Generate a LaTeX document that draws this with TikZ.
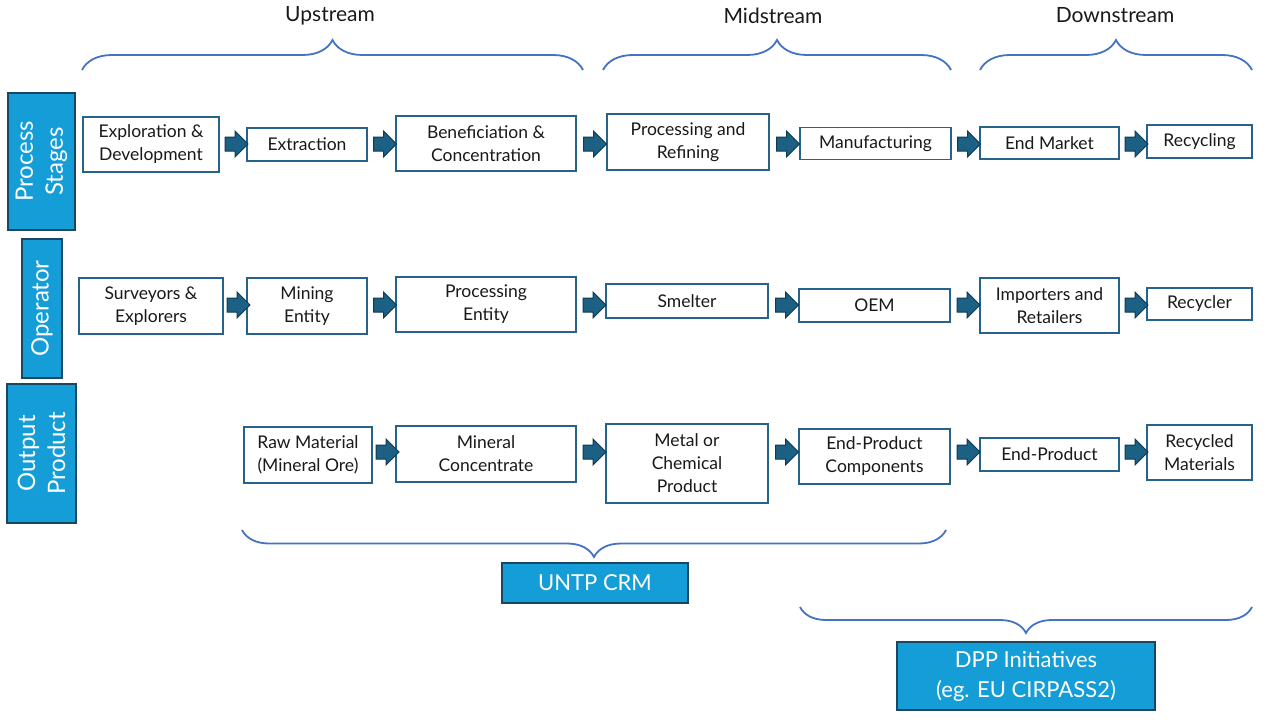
\documentclass[tikz,border=0pt]{standalone}
\usepackage{fontspec}
\setmainfont{Lato}
\usetikzlibrary{shapes.arrows,decorations.pathreplacing}
\definecolor{boxline}{RGB}{38,98,138}
\definecolor{arrowfill}{RGB}{28,96,132}
\definecolor{arrowline}{RGB}{14,58,82}
\definecolor{tagfill}{RGB}{20,157,214}
\definecolor{tagline}{RGB}{26,70,96}
\definecolor{bracecol}{RGB}{68,114,196}
\begin{document}
\begin{tikzpicture}[x=1pt, y=-1pt,
	box/.style = {draw=boxline, line width=1.4pt, fill=white, align=center, inner sep=0pt, text=black!90, font=\fontsize{17.5}{23}\selectfont},
	tag/.style = {draw=tagline, line width=1.2pt, fill=tagfill, align=center, inner sep=0pt, text=white, font=\fontsize{24}{30}\selectfont},
	flow/.style = {single arrow, draw=arrowline, fill=arrowfill, line width=1pt, minimum height=23pt, minimum width=25pt, single arrow head extend=6pt, inner xsep=0pt, inner ysep=6.5pt},
	stream/.style = {text=black!90, font=\fontsize{21}{25}\selectfont},
	curly/.style = {draw=bracecol, line width=1.8pt, decorate, decoration={brace, amplitude=#1}}]
	\useasboundingbox (0,0) rectangle (1280,720);
	\coordinate (row1) at (0,144);
	\coordinate (row2) at (0,305);
	\coordinate (row3) at (0,452);
	\node[stream] (up) at (330,16) {Upstream};
	\node[stream] (mid) at (773,16) {Midstream};
	\node[stream] (down) at (1115,15) {Downstream};
	\draw[curly=30] (82,70) -- (583,70);
	\draw[curly=30] (603,70) -- (951,70);
	\draw[curly=30] (980,70) -- (1252,70);
	\node[tag, rotate=90, minimum width=137, minimum height=67] (stages) at (41.5,161.5) {Process\\Stages};
	\node[tag, rotate=90, minimum width=139, minimum height=40] (operator) at (42,308.5) {Operator};
	\node[tag, rotate=90, minimum width=139, minimum height=69] (output) at (41.5,453.5) {Output\\Product};
	\node[box, minimum width=136, minimum height=55] (expl) at (151,144.5) {Exploration \&\\Development};
	\node[box, minimum width=120, minimum height=33] (extr) at (307,144.5) {Extraction};
	\node[box, minimum width=180, minimum height=55] (bene) at (486,143.5) {Beneficiation \&\\Concentration};
	\node[box, minimum width=162, minimum height=56] (refine) at (688,142) {Processing and\\Refining};
	\node[box, minimum width=151, minimum height=32] (manu) at (875.5,143.5) {Manufacturing};
	\node[box, minimum width=139, minimum height=32] (market) at (1049.5,143) {End Market};
	\node[box, minimum width=105, minimum height=33] (recyc) at (1199.5,141.5) {Recycling};
	\node[box, minimum width=144, minimum height=56] (surv) at (151,306) {Surveyors \&\\Explorers};
	\node[box, minimum width=120, minimum height=56] (mine) at (307,306) {Mining\\Entity};
	\node[box, minimum width=180, minimum height=55] (procent) at (486,304.5) {Processing\\Entity};
	\node[box, minimum width=162, minimum height=34] (smelt) at (687,301) {Smelter};
	\node[box, minimum width=151, minimum height=33] (oem) at (874.5,305.5) {OEM};
	\node[box, minimum width=139, minimum height=55] (import) at (1049.5,305.5) {Importers and\\Retailers};
	\node[box, minimum width=105, minimum height=32] (recycler) at (1199.5,304) {Recycler};
	\node[box, minimum width=128, minimum height=56] (raw) at (308,455) {Raw Material\\(Mineral Ore)};
	\node[box, minimum width=180, minimum height=56] (conc) at (486,454) {Mineral\\Concentrate};
	\node[box, minimum width=162, minimum height=79] (metal) at (687,463.5) {Metal or\\Chemical\\Product};
	\node[box, minimum width=151, minimum height=55] (comp) at (874.5,456.5) {End-Product\\Components};
	\node[box, minimum width=139, minimum height=33] (endprod) at (1049.5,454.5) {End-Product};
	\node[box, minimum width=105, minimum height=55] (recmat) at (1199.5,452.5) {Recycled\\Materials};
	\path (expl.east |- row1) -- node[flow] {} (extr.west |- row1);
	\path (extr.east |- row1) -- node[flow] {} (bene.west |- row1);
	\path (bene.east |- row1) -- node[flow] {} (refine.west |- row1);
	\path (refine.east |- row1) -- node[flow] {} (manu.west |- row1);
	\path (manu.east |- row1) -- node[flow] {} (market.west |- row1);
	\path (market.east |- row1) -- node[flow] {} (recyc.west |- row1);
	\path (surv.east |- row2) -- node[flow] {} (mine.west |- row2);
	\path (mine.east |- row2) -- node[flow] {} (procent.west |- row2);
	\path (procent.east |- row2) -- node[flow] {} (smelt.west |- row2);
	\path (smelt.east |- row2) -- node[flow] {} (oem.west |- row2);
	\path (oem.east |- row2) -- node[flow] {} (import.west |- row2);
	\path (import.east |- row2) -- node[flow] {} (recycler.west |- row2);
	\path (raw.east |- row3) -- node[flow] {} (conc.west |- row3);
	\path (conc.east |- row3) -- node[flow] {} (metal.west |- row3);
	\path (metal.east |- row3) -- node[flow] {} (comp.west |- row3);
	\path (comp.east |- row3) -- node[flow] {} (endprod.west |- row3);
	\path (endprod.east |- row3) -- node[flow] {} (recmat.west |- row3);
	\draw[curly=27] (946,530) -- (242,530);
	\draw[curly=26] (1252,607) -- (800,607);
	\node[tag, minimum width=186, minimum height=40, font=\fontsize{22}{26}\selectfont] (untp) at (595,583) {UNTP CRM};
	\node[tag, minimum width=258, minimum height=68, font=\fontsize{22}{30}\selectfont] (dpp) at (1026,676) {DPP Initiatives\\(eg. EU CIRPASS2)};
\end{tikzpicture}
\end{document}
